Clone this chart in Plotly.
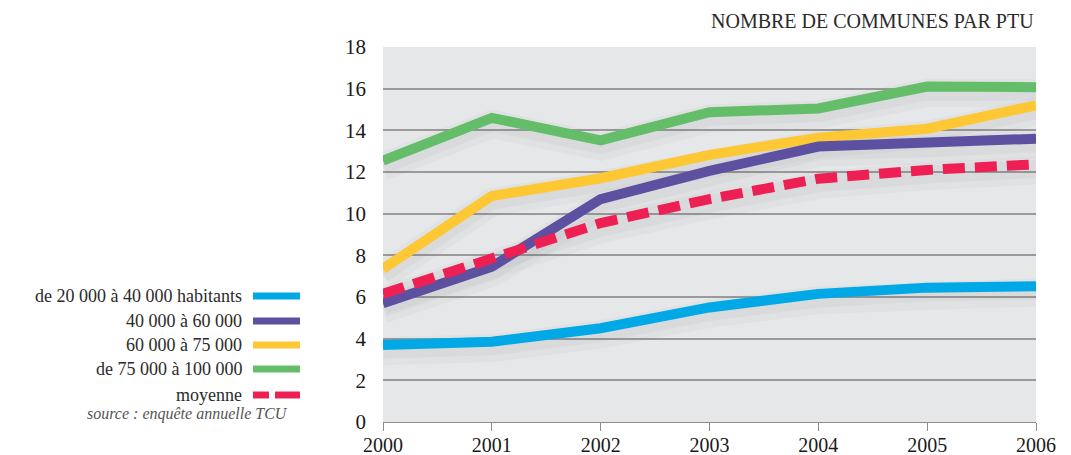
import plotly.graph_objects as go

years = [2000, 2001, 2002, 2003, 2004, 2005, 2006]
s_20_40 = [3.7, 3.85, 4.5, 5.5, 6.15, 6.45, 6.52]
s_40_60 = [5.7, 7.45, 10.7, 12.05, 13.22, 13.36, 13.6]
s_60_75 = [7.35, 10.85, 11.7, 12.82, 13.65, 14.08, 15.2]
s_75_100 = [12.55, 14.6, 13.52, 14.87, 15.05, 16.1, 16.07]
s_moy = [6.15, 7.9, 9.55, 10.7, 11.68, 12.1, 12.37]

names = ["de 20 000 à 40 000 habitants", "40 000 à 60 000", "60 000 à 75 000",
         "de 75 000 à 100 000", "moyenne"]
colors = ["#00a9e6", "#5e50a1", "#fec734", "#64bd69", "#ee2053"]
series = [s_20_40, s_40_60, s_60_75, s_75_100, s_moy]
y_ticks = list(range(0, 19, 2))

SERIF = "Liberation Serif, DejaVu Serif, serif"

fig = go.Figure()

# soft shadows beneath the lines
for vals in series:
    for w, a, off in [(28, 0.035, 0.3), (18, 0.05, 0.22)]:
        fig.add_trace(go.Scatter(x=years, y=[v - off for v in vals], mode="lines",
                                 line=dict(color=f"rgba(90,90,95,{a})", width=w),
                                 hoverinfo="skip", showlegend=False))

order = [3, 2, 1, 4, 0]
for i in order:
    fig.add_trace(go.Scatter(
        x=years, y=series[i], mode="lines", name=names[i],
        line=dict(color=colors[i], width=10,
                  dash="22px,10px" if i == 4 else "solid"),
        showlegend=False))

W, H = 1071, 455
L, R, T, B = 383, 35, 47, 33
pw, ph = W - L - R, H - T - B

def px(x):
    return (x - L) / pw

def py(y):
    return (H - B - y) / ph

# legend drawn at the left
leg_y = [296, 321, 345, 369, 395]
for i, yy in enumerate(leg_y):
    fig.add_annotation(x=px(244), y=py(yy), xref="paper", yref="paper",
                       text=names[i], showarrow=False, xanchor="right",
                       yanchor="middle",
                       font=dict(family=SERIF, size=18, color="#2a2a2a"))
    if i == 4:
        for a, b in [(253, 269), (275, 300)]:
            fig.add_shape(type="line", xref="paper", yref="paper",
                          x0=px(a), x1=px(b), y0=py(yy), y1=py(yy),
                          line=dict(color=colors[i], width=7))
    else:
        fig.add_shape(type="line", xref="paper", yref="paper",
                      x0=px(253), x1=px(300), y0=py(yy), y1=py(yy),
                      line=dict(color=colors[i], width=7))

fig.add_annotation(x=px(290), y=py(414), xref="paper", yref="paper",
                   text="<i>source : enquête annuelle TCU</i>", showarrow=False,
                   xanchor="right", yanchor="middle",
                   font=dict(family=SERIF, size=16, color="#555"))

fig.add_annotation(x=1, y=py(21), xref="paper", yref="paper",
                   text="NOMBRE DE COMMUNES PAR PTU", showarrow=False,
                   xanchor="right", yanchor="middle",
                   font=dict(family=SERIF, size=20, color="#2a2a2a"))

fig.update_layout(
    width=W, height=H,
    margin=dict(l=L, r=R, t=T, b=B),
    paper_bgcolor="white", plot_bgcolor="#e6e7e9",
    showlegend=False,
    xaxis=dict(range=[2000, 2006], tickvals=years, ticktext=[str(y) for y in years],
               showgrid=False, zeroline=False, showline=True, linecolor="#8c8c8c",
               linewidth=1, ticks="outside", ticklen=8, tickcolor="#8c8c8c",
               automargin=False, ticklabelstandoff=-3,
               tickfont=dict(family=SERIF, size=20, color="#1a1a1a")),
    yaxis=dict(range=[0, 18], tickvals=y_ticks, showgrid=True, gridcolor="#9a9a9a",
               gridwidth=1.5, zeroline=False, showline=False, ticks="",
               ticklabelstandoff=16, automargin=False,
               tickfont=dict(family=SERIF, size=21, color="#1a1a1a")),
)

fig.write_html("out.html")
